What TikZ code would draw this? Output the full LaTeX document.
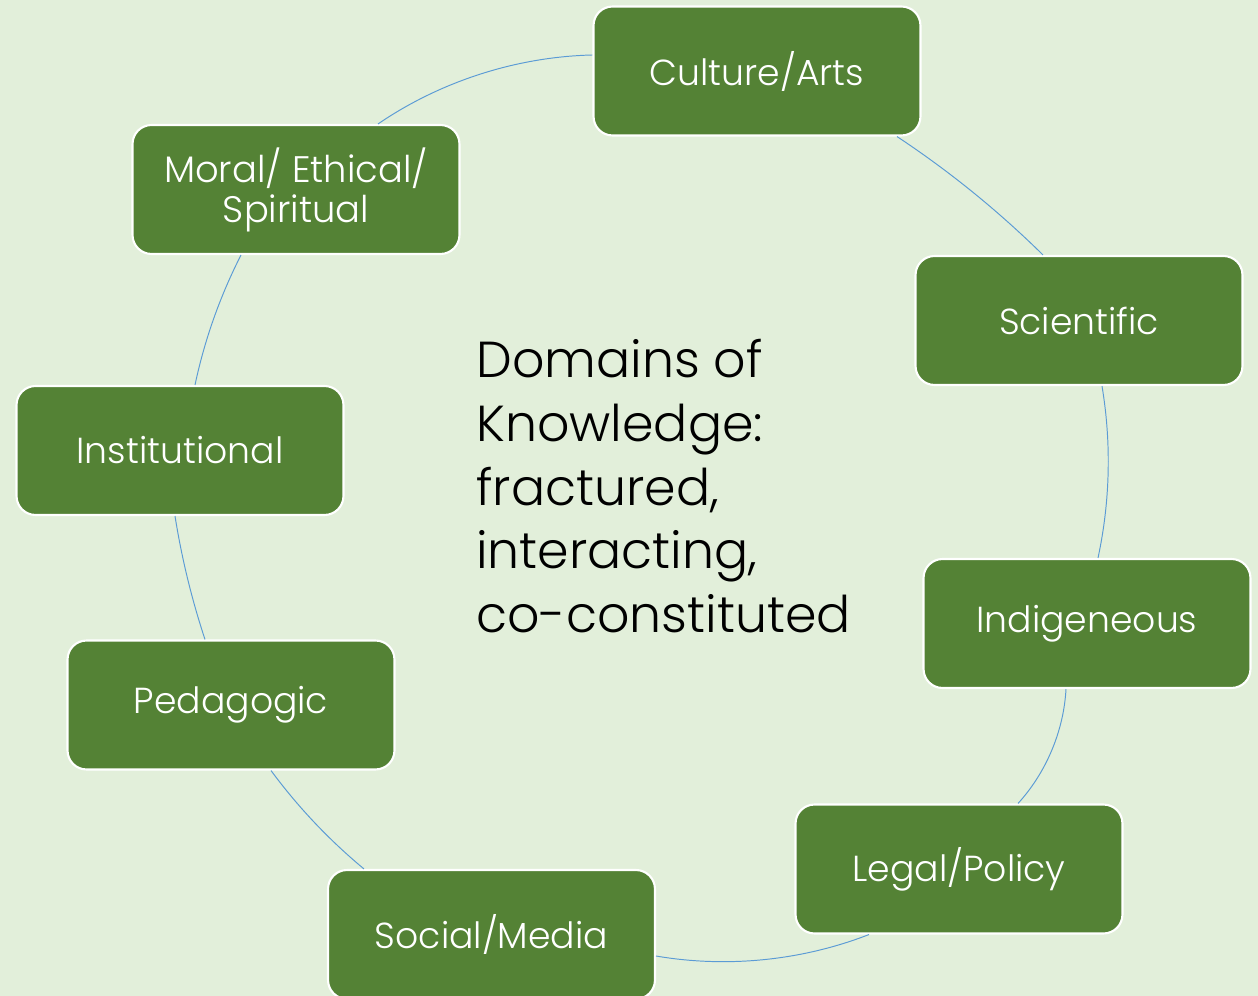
\documentclass[tikz,border=0pt]{standalone}
\usepackage{fontspec}
\setmainfont{Poppins}[UprightFont={* Light}]
\definecolor{bgc}{HTML}{E2EFDA}
\definecolor{boxc}{HTML}{548235}
\definecolor{arcc}{HTML}{5B9BD5}
\tikzset{
  dombox/.style={draw=white, line width=1.2pt, fill=boxc, rounded corners=0.38cm,
    minimum width=6.54cm, minimum height=2.58cm, text=white, align=center,
    font=\fontsize{20.6}{23}\selectfont, inner sep=0pt},
  link/.style={draw=arcc, line width=0.55pt, looseness=0.86},
}
\begin{document}
\begin{tikzpicture}[x=0.02cm, y=-0.02cm]
\fill[bgc] (0,0) rectangle (1258,996);
\useasboundingbox (0,0) rectangle (1258,996);
\node[dombox] (cul) at (757,71) {Culture/Arts};
\node[dombox] (sci) at (1079,320.5) {Scientific};
\node[dombox] (ind) at (1087,623.5) {Indigeneous};
\node[dombox] (leg) at (959,869) {Legal/Policy};
\node[dombox] (soc) at (491.5,934.5) {Social/Media};
\node[dombox] (ped) at (231,705) {Pedagogic};
\node[dombox] (ins) at (180,450.5) {Institutional};
\node[dombox, font=\fontsize{21}{22.7}\selectfont] (mor) at (296,189.5) {Moral/ Ethical/\\Spiritual};
\draw[link] (cul.south -| 897,0) to[bend left=5.5] (sci.north -| 1043,0);
\draw[link] (sci.south -| 1102,0) to[bend left=10.8] (ind.north -| 1098,0);
\draw[link] (ind.south -| 1066,0) to[bend left=19.7] (leg.north -| 1018,0);
\draw[link] (leg.south -| 869,0) to[bend left=15.5] (soc.east |- 0,956);
\draw[link] (soc.north -| 364,0) to[bend left=6.9] (ped.south -| 271,0);
\draw[link] (ped.north -| 205,0) to[bend left=4.6] (ins.south -| 175,0);
\draw[link] (ins.north -| 195,0) to[bend left=7.5] (mor.south -| 241,0);
\draw[link] (mor.north -| 378,0) to[bend left=16.5] (cul.west |- 0,55);
\node[anchor=north west, inner sep=0pt, align=left,
  font=\fontsize{28.8}{36.3}\selectfont] (title) at (476,339)
  {Domains of\\Knowledge:\\fractured,\\interacting,\\co-constituted};
\end{tikzpicture}
\end{document}
